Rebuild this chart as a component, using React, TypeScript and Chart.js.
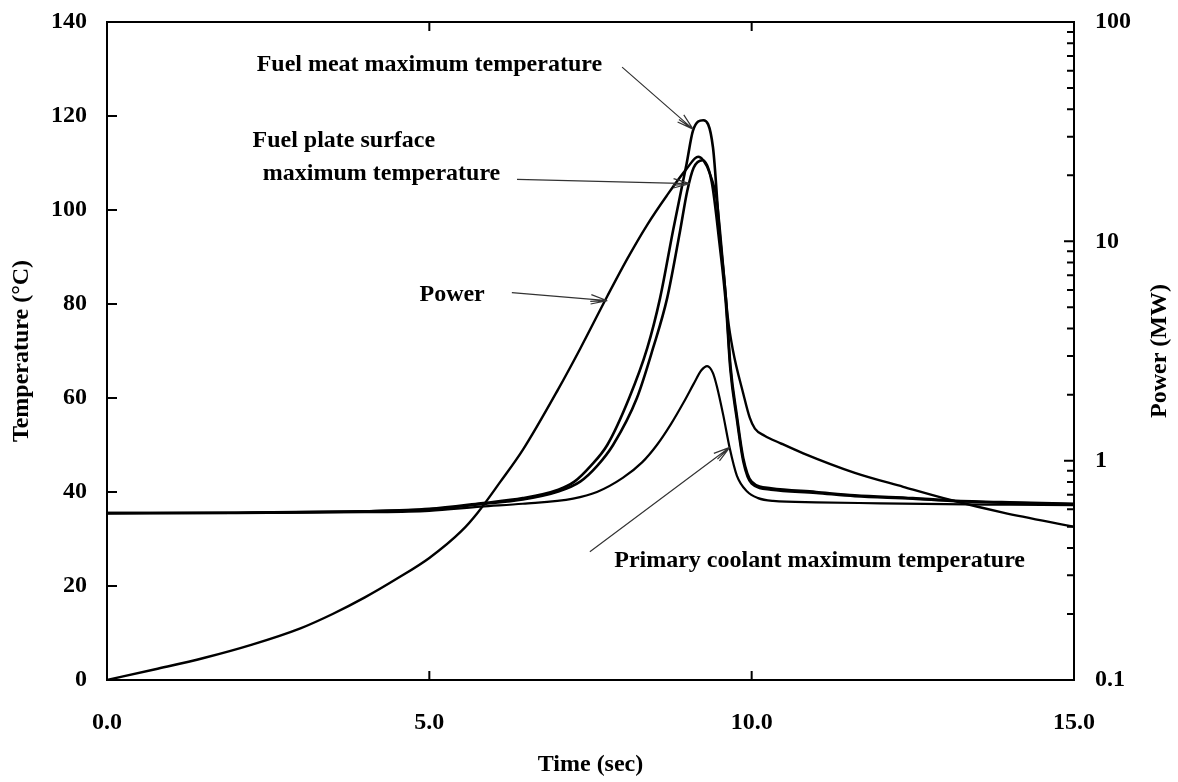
import React, { useEffect, useRef } from 'react';
import { Chart, registerables } from 'chart.js';
Chart.register(...registerables);

// ---- data (time in s, temperature in °C, power in MW) ----
const powerTime = [0, 0.75, 1.5, 2.25, 3.0, 3.5, 4.0, 4.5, 5.0, 5.5, 5.75, 6.1, 6.45, 7.0, 7.34, 7.76, 8.07, 8.38, 8.68, 8.99, 9.17, 9.25, 9.35, 9.46, 9.56, 9.63, 9.71, 9.87, 9.97, 10.05, 10.2, 10.45, 10.8, 11.6, 12.35, 13.1, 13.9, 15.0];
const powerMW = [0.1, 0.112, 0.126, 0.145, 0.172, 0.2, 0.238, 0.29, 0.36, 0.478, 0.579, 0.80, 1.12, 2.12, 3.24, 5.62, 8.32, 11.9, 16.1, 21.4, 24.3, 23.4, 20.4, 15.3, 7.6, 4.5, 3.18, 2.02, 1.57, 1.4, 1.3, 1.2, 1.08, 0.88, 0.76, 0.66, 0.58, 0.5];

const meatTime = [0, 2, 4, 5, 5.8, 6.45, 7.0, 7.25, 7.5, 7.76, 8.1, 8.38, 8.58, 8.78, 8.99, 9.09, 9.25, 9.4, 9.5, 9.6, 9.67, 9.77, 9.87, 10.0, 10.3, 11.0, 11.6, 12.5, 13.1, 14.0, 15.0];
const meatTemp = [35.5, 35.6, 35.9, 36.4, 37.6, 38.7, 40.5, 42.2, 45.5, 50, 60, 70.6, 81.3, 95.6, 109.8, 116.9, 119.1, 113.3, 95.6, 81.3, 67, 56.3, 47.2, 42.2, 40.8, 40, 39.3, 38.7, 38.2, 37.8, 37.5];

const surfTime = [0, 2, 4, 5, 5.8, 6.45, 7.0, 7.34, 7.6, 7.85, 8.22, 8.47, 8.69, 8.89, 9.0, 9.1, 9.24, 9.38, 9.5, 9.6, 9.67, 9.77, 9.87, 10.0, 10.3, 11.0, 11.6, 12.5, 13.1, 14.0, 15.0];
const surfTemp = [35.5, 35.6, 35.9, 36.3, 37.4, 38.4, 40.1, 42.2, 45.5, 50, 60, 70.6, 81.3, 95.6, 104, 109, 110.6, 106, 93, 80, 66, 55.5, 46.5, 41.8, 40.5, 39.8, 39.1, 38.6, 38.1, 37.7, 37.4];

const coolTime = [0, 2, 4, 5, 5.8, 6.45, 7.23, 7.6, 8.0, 8.3, 8.53, 8.75, 8.95, 9.1, 9.22, 9.31, 9.4, 9.46, 9.56, 9.66, 9.77, 9.93, 10.1, 10.33, 11, 12, 13, 14, 15];
const coolTemp = [35.5, 35.5, 35.7, 36.0, 36.9, 37.5, 38.6, 40.0, 43.0, 46.3, 50.0, 54.5, 59.2, 63.0, 65.9, 66.8, 65.3, 62.5, 56.3, 49.3, 43.5, 40.1, 38.7, 38.1, 37.8, 37.6, 37.4, 37.3, 37.2];

// ---- tick values ----
const timeTicks = [0, 5, 10, 15];
const tempTicks = [0, 20, 40, 60, 80, 100, 120, 140];
const powerTicks = [0.1, 1, 10, 100];

// ---- annotation texts ----
const labelTexts = ['Fuel meat maximum temperature', 'Fuel plate surface', 'maximum temperature', 'Power', 'Primary coolant maximum temperature'];

// annotation placement (in data units: right end of text / arrow ends)
const labelAt = [[7.68, 131.0], [5.09, 114.8], [6.10, 107.6], [5.86, 81.9], [14.24, 25.4]];
const arrowFrom = [[7.99, 130.4], [6.36, 106.5], [6.28, 82.4], [7.49, 27.3]];
const arrowTo = [[9.09, 117.2], [9.04, 105.6], [7.76, 80.7], [9.66, 49.5]];

const FONT = '"Liberation Serif", "Times New Roman", serif';

const framePlugin = {
  id: 'frameAndNotes',
  afterDraw(chart: any) {
    const { ctx, chartArea: a, scales } = chart;
    const sx = scales.x, sy = scales.y, sp = scales.y2;
    ctx.save();
    ctx.strokeStyle = '#000';
    ctx.lineWidth = 2;
    ctx.strokeRect(a.left, a.top, a.right - a.left, a.bottom - a.top);
    ctx.beginPath();
    timeTicks.slice(1, -1).forEach((v) => {
      const px = sx.getPixelForValue(v);
      ctx.moveTo(px, a.bottom); ctx.lineTo(px, a.bottom - 9);
      ctx.moveTo(px, a.top); ctx.lineTo(px, a.top + 9);
    });
    tempTicks.slice(1, -1).forEach((v) => {
      const py = sy.getPixelForValue(v);
      ctx.moveTo(a.left, py); ctx.lineTo(a.left + 10, py);
    });
    sp.ticks.forEach((t: any) => {
      const py = sp.getPixelForValue(t.value);
      if (py <= a.top + 1 || py >= a.bottom - 1) return;
      const major = powerTicks.some((p) => Math.abs(p - t.value) < 1e-9);
      ctx.moveTo(a.right, py); ctx.lineTo(a.right - (major ? 10 : 7), py);
    });
    ctx.stroke();

    // arrows
    ctx.strokeStyle = '#333';
    ctx.lineWidth = 1.2;
    arrowFrom.forEach((f, i) => {
      const x1 = sx.getPixelForValue(f[0]), y1 = sy.getPixelForValue(f[1]);
      const x2 = sx.getPixelForValue(arrowTo[i][0]), y2 = sy.getPixelForValue(arrowTo[i][1]);
      ctx.beginPath();
      ctx.moveTo(x1, y1); ctx.lineTo(x2, y2);
      const ang = Math.atan2(y2 - y1, x2 - x1);
      [-0.28, -0.12, 0.28].forEach((d) => {
        ctx.moveTo(x2, y2);
        ctx.lineTo(x2 - 17 * Math.cos(ang + d), y2 - 17 * Math.sin(ang + d));
      });
      ctx.stroke();
    });

    // texts
    ctx.fillStyle = '#000';
    ctx.font = `bold 24px ${FONT}`;
    ctx.textAlign = 'right';
    ctx.textBaseline = 'middle';
    labelTexts.forEach((txt, i) => {
      ctx.fillText(txt, sx.getPixelForValue(labelAt[i][0]), sy.getPixelForValue(labelAt[i][1]));
    });

    // right axis title, reading bottom-to-top
    ctx.save();
    ctx.translate(1160, (a.top + a.bottom) / 2);
    ctx.rotate(-Math.PI / 2);
    ctx.textAlign = 'center';
    ctx.fillText('Power (MW)', 0, 0);
    ctx.restore();
    ctx.restore();
  },
};

export default function App() {
  const ref = useRef<HTMLCanvasElement | null>(null);
  useEffect(() => {
    if (!ref.current) return;
    Chart.defaults.font.family = FONT;
    Chart.defaults.font.size = 24;
    Chart.defaults.font.weight = 'bold' as any;
    Chart.defaults.color = '#000';
    const toXY = (xs: number[], ys: number[]) => xs.map((x, i) => ({ x, y: ys[i] }));
    const line = { borderColor: '#000', pointRadius: 0, fill: false, cubicInterpolationMode: 'monotone' as const };
    const chart = new Chart(ref.current, {
      type: 'line',
      data: {
        datasets: [
          { ...line, label: 'Fuel meat maximum temperature', data: toXY(meatTime, meatTemp), borderWidth: 2.6, yAxisID: 'y' },
          { ...line, label: 'Fuel plate surface maximum temperature', data: toXY(surfTime, surfTemp), borderWidth: 2.6, yAxisID: 'y' },
          { ...line, label: 'Primary coolant maximum temperature', data: toXY(coolTime, coolTemp), borderWidth: 2.2, yAxisID: 'y' },
          { ...line, label: 'Power', data: toXY(powerTime, powerMW), borderWidth: 2.4, yAxisID: 'y2' },
        ],
      },
      options: {
        animation: false,
        responsive: false,
        layout: { padding: { top: 22, left: 0, right: 0, bottom: 0 } },
        plugins: { legend: { display: false }, tooltip: { enabled: false } },
        scales: {
          x: {
            type: 'linear', position: 'bottom', min: 0, max: 15,
            grid: { display: false, drawTicks: false }, border: { display: false },
            afterBuildTicks: (s: any) => { s.ticks = timeTicks.map((v) => ({ value: v })); },
            afterFit: (s: any) => { s.height = 102; s.paddingLeft = 0; s.paddingRight = 0; },
            ticks: { padding: 28, autoSkip: false, maxRotation: 0, callback: (v: any) => Number(v).toFixed(1) },
            title: { display: true, text: 'Time (sec)', padding: { top: 0, bottom: 3 } },
          },
          y: {
            type: 'linear', position: 'left', min: 0, max: 140,
            grid: { display: false, drawTicks: false }, border: { display: false },
            afterBuildTicks: (s: any) => { s.ticks = tempTicks.map((v) => ({ value: v })); },
            afterFit: (s: any) => { s.width = 107; s.paddingTop = 0; s.paddingBottom = 0; },
            ticks: { padding: 20, autoSkip: false, callback: (v: any) => String(v) },
            title: { display: true, text: 'Temperature (°C)', padding: { top: 7, bottom: 0 } },
          },
          y2: {
            type: 'logarithmic', position: 'right', min: 0.1, max: 100,
            grid: { display: false, drawTicks: false }, border: { display: false },
            afterBuildTicks: (s: any) => {
              const vals: number[] = [];
              [0.1, 1, 10].forEach((d) => { for (let k = 1; k <= 9; k++) vals.push(Number((d * k).toPrecision(6))); });
              vals.push(100);
              s.ticks = vals.map((v) => ({ value: v }));
            },
            afterFit: (s: any) => { s.width = 104; s.paddingTop = 0; s.paddingBottom = 0; },
            ticks: {
              padding: 21, autoSkip: false,
              callback: (v: any) => (powerTicks.some((p) => Math.abs(p - Number(v)) < 1e-9) ? String(v) : ''),
            },
            title: { display: false, text: 'Power (MW)' },
          },
        },
      },
      plugins: [framePlugin],
    });
    return () => chart.destroy();
  }, []);
  return (
    <div style={{ position: 'fixed', left: 0, top: 0, width: 1178, height: 782, background: '#fff' }}>
      <canvas ref={ref} width={1178} height={782} style={{ display: 'block' }} />
    </div>
  );
}
